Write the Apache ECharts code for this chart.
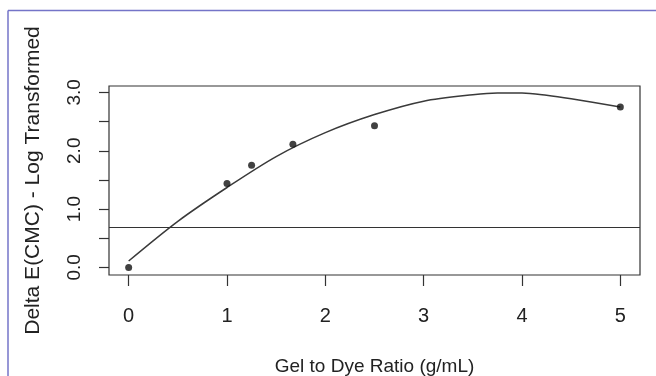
<!DOCTYPE html>
<html>
<head>
<meta charset="utf-8">
<title>Gel to Dye Ratio</title>
<script src="https://cdn.jsdelivr.net/npm/echarts@6/dist/echarts.min.js"></script>
<style>
  html, body { margin: 0; padding: 0; background: #fff; }
  #main { width: 656px; height: 376px; }
</style>
</head>
<body>
<div id="main"></div>
<script>
// measured points (x = gel to dye ratio, y = log transformed delta E)
const pointX = [0, 1, 1.25, 1.67, 2.5, 5]
const pointY = [0.0, 1.44, 1.75, 2.11, 2.43, 2.75]
// fitted curve
const curveX = [0, 0.5, 1, 1.5, 2, 2.5, 3, 3.5, 3.75, 4, 4.25, 4.5, 5]
const curveY = [0.11, 0.79, 1.37, 1.9, 2.31, 2.62, 2.85, 2.96, 2.99, 2.99, 2.95, 2.89, 2.75]
// horizontal reference line
const refLine = 0.69
// axis ticks
const xTicks = [0, 1, 2, 3, 4, 5]
const yTicks = [0, 0.5, 1, 1.5, 2, 2.5, 3]
const yLabels = [0, 1, 2, 3]

const font = 'Liberation Sans, Arial, sans-serif'
const ink = '#222'

const chartInstance = echarts.init(document.getElementById('main'), null, { renderer: 'canvas' })

const option = {
  animation: false,
  backgroundColor: '#fff',
  // blue frame round the picture
  graphic: [
    { type: 'line', shape: { x1: 8, y1: 10.5, x2: 656, y2: 10.5 }, style: { stroke: '#7474c8', lineWidth: 1.5 } },
    { type: 'line', shape: { x1: 8, y1: 10.5, x2: 8, y2: 376 }, style: { stroke: '#7474c8', lineWidth: 1.5 } }
  ],
  grid: {
    left: 109,
    right: 16,
    top: 86,
    bottom: 101,
    outerBoundsMode: 'none',
    show: true,
    borderColor: '#333',
    borderWidth: 1.2
  },
  xAxis: {
    type: 'value',
    min: -0.2,
    max: 5.2,
    name: 'Gel to Dye Ratio (g/mL)',
    nameLocation: 'middle',
    nameGap: 82,
    nameTextStyle: { fontFamily: font, fontSize: 19, color: ink },
    axisLine: { show: false, onZero: false },
    splitLine: { show: false },
    axisTick: { show: true, length: 11, customValues: xTicks, lineStyle: { color: '#333', width: 1.2 } },
    axisLabel: {
      customValues: xTicks,
      margin: 31,
      fontFamily: font,
      fontSize: 20,
      color: ink
    }
  },
  yAxis: {
    type: 'value',
    min: -0.13,
    max: 3.11,
    name: 'Delta E(CMC) - Log Transformed',
    nameLocation: 'middle',
    nameRotate: 90,
    nameGap: 65,
    nameTextStyle: { fontFamily: font, fontSize: 21, color: ink },
    axisLine: { show: false, onZero: false },
    splitLine: { show: false },
    axisTick: { show: true, length: 10, customValues: yTicks, lineStyle: { color: '#333', width: 1.2 } },
    axisLabel: {
      customValues: yLabels,
      rotate: 90,
      margin: 25,
      fontFamily: font,
      fontSize: 19,
      color: ink,
      formatter: (v) => v.toFixed(1)
    }
  },
  series: [
    {
      type: 'line',
      data: curveX.map((x, i) => [x, curveY[i]]),
      smooth: 0.3,
      showSymbol: false,
      lineStyle: { color: '#3a3a3a', width: 1.5 },
      z: 2,
      markLine: {
        silent: true,
        symbol: 'none',
        label: { show: false },
        lineStyle: { color: '#333', width: 1.2, type: 'solid' },
        data: [{ yAxis: refLine }]
      }
    },
    {
      type: 'scatter',
      data: pointX.map((x, i) => [x, pointY[i]]),
      symbolSize: 7,
      itemStyle: { color: '#111' },
      z: 3
    }
  ]
}

chartInstance.setOption(option)
</script>
</body>
</html>
